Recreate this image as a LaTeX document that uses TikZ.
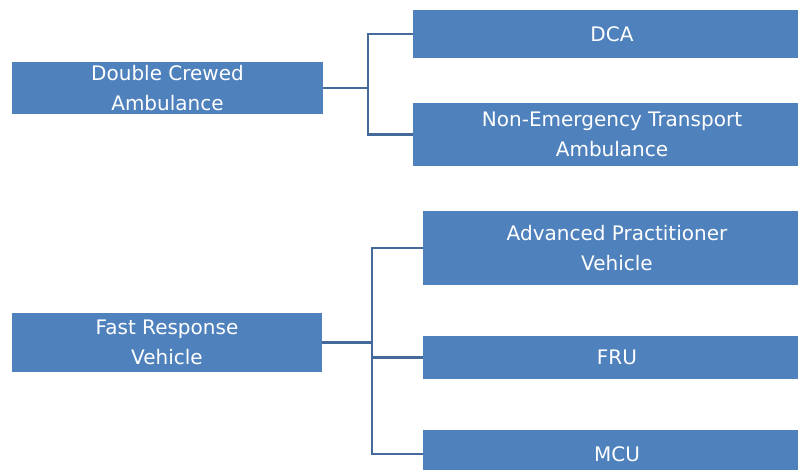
\documentclass[tikz,border=0pt]{standalone}
\usepackage{fontspec}
\setmainfont{DejaVu Sans}
\definecolor{boxblue}{HTML}{4F81BD}
\definecolor{linkblue}{HTML}{44699A}
\tikzset{
  unit/.style={fill=boxblue, text=white, inner sep=0pt, align=center,
    font=\fontsize{20}{30}\selectfont},
  link/.style={draw=linkblue, line width=2.2pt}
}
\begin{document}
\begin{tikzpicture}[x=1pt,y=1pt]
        \useasboundingbox (0,0) rectangle (798,470);
        \clip (0,0) rectangle (798,470);

        \node [unit,minimum width=311,minimum height=52](dcrew)at(167.5,382){Double Crewed\\Ambulance};
        \node [unit,minimum width=398,minimum height=48](dca)at(612,436){DCA};
        \node [unit,minimum width=398,minimum height=63](net)at(612,335.5){Non-Emergency Transport\\Ambulance};

        \node [unit,minimum width=310,minimum height=59](frv)at(167,127.5){Fast Response\\Vehicle};
        \node [unit,minimum width=388,minimum height=74](apv)at(617,222){Advanced Practitioner\\Vehicle};
        \node [unit,minimum width=388,minimum height=43](fru)at(617,112.5){FRU};
        \node [unit,minimum width=388,minimum height=48](mcu)at(617,16){MCU};

        \coordinate (j1) at (368,382);
        \coordinate (j2) at (372,127.5);

        \draw [link] (dcrew) -- (j1);
        \draw [link] (j1) |- (dca);
        \draw [link] (j1) |- (net);

        \draw [link] (frv) -- (j2);
        \draw [link] (j2) |- (apv);
        \draw [link] (j2) |- (fru);
        \draw [link] (j2) |- (mcu);
    \end{tikzpicture}
\end{document}
